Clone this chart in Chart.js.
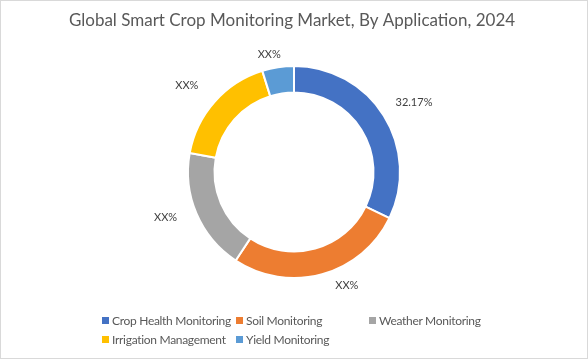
<!DOCTYPE html>
<html>
<head>
<meta charset="utf-8">
<script src="https://cdn.jsdelivr.net/npm/chart.js@4.4.1/dist/chart.umd.min.js"></script>
<style>
  html, body { margin: 0; padding: 0; background: #fff; }
  #wrap { position: relative; width: 588px; height: 359px; box-sizing: border-box; border: 1px solid #d9d9d9; overflow: hidden; }
  #c { position: absolute; left: -1px; top: -1px; }
  #legend { position: absolute; left: 0; top: 0; width: 588px; height: 359px; pointer-events: none;
            font-family: Lato, "Noto Sans", sans-serif; font-size: 12px; letter-spacing: -0.3px; color: #595959; }
  .item { position: absolute; white-space: nowrap; line-height: 14px; }
  .sw { display: inline-block; width: 7px; height: 7px; margin-right: 3px; vertical-align: 1px; }
</style>
</head>
<body>
<div id="wrap">
  <canvas id="c" width="588" height="359"></canvas>
  <div id="legend"></div>
</div>
<script>
const categories = ["Crop Health Monitoring", "Soil Monitoring", "Weather Monitoring", "Irrigation Management", "Yield Monitoring"];
const shares = [32.17, 27.1, 18.6, 17.3, 4.83];
const labelTexts = ["32.17%", "XX%", "XX%", "XX%", "XX%"];
const colors = ["#4472C4", "#ED7D31", "#A5A5A5", "#FFC000", "#5B9BD5"];
const titleText = "Global Smart Crop Monitoring Market, By Application, 2024";

// style: small label nudges (px) and legend layout
const labelNudge = [[9, 0], [18, -13], [-8, -6], [-9, 0], [-5, 12]];
const legendPos = [[101, 313], [235, 313], [368, 313], [101, 332], [235, 332]];

const labelPlugin = {
  id: 'outLabels',
  afterDatasetsDraw(chart) {
    const ctx = chart.ctx;
    const meta = chart.getDatasetMeta(0);
    ctx.save();
    ctx.font = '11px Lato, "Noto Sans", sans-serif';
    ctx.fillStyle = '#404040';
    ctx.textAlign = 'center';
    ctx.textBaseline = 'middle';
    meta.data.forEach((arc, i) => {
      const p = arc.getProps(['x', 'y', 'startAngle', 'endAngle', 'outerRadius'], true);
      const mid = (p.startAngle + p.endAngle) / 2;
      const r = p.outerRadius + 25;
      const x = p.x + Math.cos(mid) * r + labelNudge[i][0];
      const y = p.y + Math.sin(mid) * r + labelNudge[i][1];
      ctx.fillText(labelTexts[i], x, y);
    });
    ctx.restore();
  }
};

const titlePlugin = {
  id: 'fixedTitle',
  afterDraw(chart) {
    const ctx = chart.ctx;
    ctx.save();
    ctx.font = '17px Lato, "Noto Sans", sans-serif';
    ctx.fillStyle = '#595959';
    ctx.textAlign = 'center';
    ctx.textBaseline = 'middle';
    ctx.fillText(titleText, 292, 21);
    ctx.restore();
  }
};

new Chart(document.getElementById('c'), {
  type: 'doughnut',
  data: {
    labels: categories,
    datasets: [{
      data: shares,
      backgroundColor: colors,
      borderColor: '#ffffff',
      borderWidth: 2,
      hoverOffset: 0
    }]
  },
  options: {
    responsive: false,
    animation: false,
    cutout: '75%',
    layout: { padding: { top: 65, bottom: 80, left: 0, right: 0 } },
    plugins: {
      legend: { display: false },
      title: { display: false },
      tooltip: { enabled: false }
    }
  },
  plugins: [labelPlugin, titlePlugin]
});

const lg = document.getElementById('legend');
categories.forEach((name, i) => {
  const d = document.createElement('div');
  d.className = 'item';
  d.style.left = legendPos[i][0] + 'px';
  d.style.top = legendPos[i][1] + 'px';
  d.innerHTML = '<span class="sw" style="background:' + colors[i] + '"></span>' + name;
  lg.appendChild(d);
});
</script>
</body>
</html>
